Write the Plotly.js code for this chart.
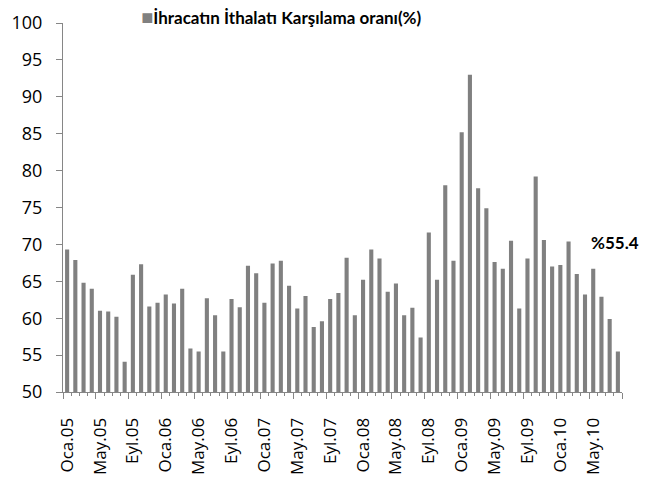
<!DOCTYPE html>
<html>
<head>
<meta charset="utf-8">
<script src="https://cdn.plot.ly/plotly-3.0.1.min.js"></script>
<style>html,body{margin:0;padding:0;background:#fff;}#chart{width:645px;height:481px;}</style>
</head>
<body>
<div id="chart"></div>
<script>
// Month abbreviations (Turkish) and years covered
const monthNames = ["Oca","Şub","Mar","Nis","May","Haz","Tem","Ağu","Eyl","Eki","Kas","Ara"];
const years = ["05","06","07","08","09","10"];
const nMonths = 68; // Oca.05 .. Ağu.10

// Categories (month labels)
const categories = [];
for (let i = 0; i < nMonths; i++) {
  categories.push(monthNames[i % 12] + "." + years[Math.floor(i / 12)]);
}

// Export/import coverage ratio (%) per year
const ratio2005 = [69.3, 67.9, 64.8, 64.0, 61.0, 60.9, 60.2, 54.1, 65.9, 67.3, 61.6, 62.1];
const ratio2006 = [63.2, 62.0, 64.0, 55.9, 55.5, 62.7, 60.4, 55.5, 62.6, 61.5, 67.1, 66.1];
const ratio2007 = [62.1, 67.4, 67.8, 64.4, 61.3, 63.0, 58.8, 59.6, 62.6, 63.4, 68.2, 60.4];
const ratio2008 = [65.2, 69.3, 68.1, 63.6, 64.7, 60.4, 61.4, 57.4, 71.6, 65.2, 78.0, 67.8];
const ratio2009 = [85.2, 93.0, 77.6, 74.9, 67.6, 66.7, 70.5, 61.3, 68.1, 79.2, 70.6, 67.0];
const ratio2010 = [67.2, 70.4, 66.0, 63.2, 66.7, 62.9, 59.9, 55.5];
const values = [].concat(ratio2005, ratio2006, ratio2007, ratio2008, ratio2009, ratio2010);

// Tick labels every 4 months
const tickLabels = ["Oca.05","May.05","Eyl.05","Oca.06","May.06","Eyl.06","Oca.07","May.07","Eyl.07",
                    "Oca.08","May.08","Eyl.08","Oca.09","May.09","Eyl.09","Oca.10","May.10"];

const seriesName = "İhracatın İthalatı Karşılama oranı(%)";
const lastLabel = "%55.4";

const axisColor = "#868686";
const barColor = "#808080";

const traces = [
  {
    type: "bar",
    x: categories,
    y: values,
    name: seriesName,
    marker: {color: barColor},
    hoverinfo: "x+y",
    showlegend: false
  },
  {
    type: "scatter",
    x: [-0.5, nMonths - 0.5],
    y: [50, 50],
    xaxis: "x2",
    mode: "none",
    hoverinfo: "skip",
    showlegend: false
  }
];

const layout = {
  width: 645,
  height: 481,
  margin: {l: 63, r: 23, t: 23, b: 89},
  paper_bgcolor: "#ffffff",
  plot_bgcolor: "#ffffff",
  bargap: 0.5,
  showlegend: false,
  title: {
    text: '<span style="color:' + barColor + ';font-size:20px">■</span><b>' + seriesName + '</b>',
    font: {family: "Lato, sans-serif", size: 17, color: "#000"},
    x: 0.436, xanchor: "center", xref: "container",
    y: 0.962, yanchor: "middle", yref: "container"
  },
  xaxis: {
    type: "category",
    range: [-0.5, nMonths - 0.5],
    tickmode: "array",
    tickvals: tickLabels,
    ticktext: tickLabels,
    ticks: "",
    tickangle: -90,
    tickfont: {family: "Open Sans, sans-serif", size: 17, color: "#000"},
    showline: true,
    linecolor: axisColor,
    linewidth: 1,
    showgrid: false,
    zeroline: false,
    ticklabelstandoff: 18,
    fixedrange: true
  },
  xaxis2: {
    overlaying: "x",
    anchor: "y",
    side: "bottom",
    range: [-0.5, nMonths - 0.5],
    tickmode: "linear",
    tick0: -0.5,
    dtick: 4,
    ticks: "outside",
    ticklen: 6,
    tickcolor: axisColor,
    showticklabels: false,
    showgrid: false,
    zeroline: false,
    showline: false,
    minor: {tick0: -0.5, dtick: 1, ticks: "outside", ticklen: 3, tickcolor: axisColor, showgrid: false},
    fixedrange: true
  },
  yaxis: {
    range: [50, 100],
    tickmode: "linear",
    tick0: 50,
    dtick: 5,
    ticks: "outside",
    ticklen: 6,
    tickcolor: axisColor,
    tickfont: {family: "Open Sans, sans-serif", size: 18, color: "#000"},
    showline: true,
    linecolor: axisColor,
    linewidth: 1,
    showgrid: false,
    zeroline: false,
    ticklabelstandoff: 10,
    fixedrange: true
  },
  annotations: [
    {
      text: "<b>" + lastLabel + "</b>",
      xref: "paper", yref: "y",
      x: 0.987, y: 70.2,
      xanchor: "center", yanchor: "middle",
      showarrow: false,
      font: {family: "Lato, sans-serif", size: 17, color: "#000"}
    }
  ]
};

Plotly.newPlot("chart", traces, layout, {displayModeBar: false, staticPlot: true});
</script>
</body>
</html>
